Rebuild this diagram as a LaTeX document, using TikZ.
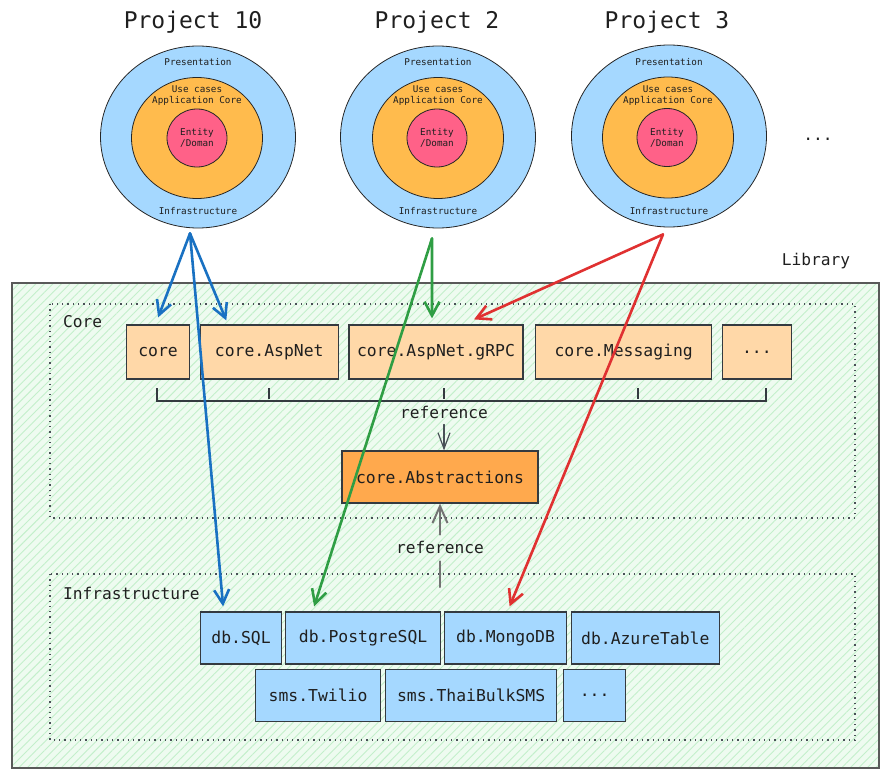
\documentclass[tikz,border=0pt]{standalone}
\usepackage{fontspec}
\setmainfont{DejaVu Sans Mono}
\usetikzlibrary{positioning, arrows.meta, patterns.meta, shapes.geometric}
\definecolor{infraBlue}{HTML}{A5D8FF}
\definecolor{appOrange}{HTML}{FFBB4D}
\definecolor{entityPink}{HTML}{FF6188}
\definecolor{corePeach}{HTML}{FFD8A8}
\definecolor{absOrange}{HTML}{FFA94D}
\definecolor{libGreen}{HTML}{EEFBF0}
\definecolor{hatchGreen}{HTML}{C3EFCB}
\definecolor{edgeDark}{HTML}{343A40}
\definecolor{refGray}{HTML}{495057}
\definecolor{arBlue}{HTML}{1971C2}
\definecolor{arGreen}{HTML}{2F9E44}
\definecolor{arRed}{HTML}{E03131}
\tikzstyle{outerRing} = [ellipse, draw=black!85, fill=infraBlue, line width=0.8pt, minimum width=195pt, minimum height=182pt, inner sep=0pt]
\tikzstyle{midRing} = [ellipse, draw=black!85, fill=appOrange, line width=0.8pt, minimum width=131pt, minimum height=121pt, inner sep=0pt]
\tikzstyle{innerRing} = [ellipse, draw=black!85, fill=entityPink, line width=0.8pt, minimum width=60pt, minimum height=58pt, inner sep=0pt]
\tikzstyle{ringText} = [font=\fontsize{9.3}{11}\selectfont, align=center, inner sep=0pt]
\tikzstyle{projTitle} = [font=\fontsize{23}{26}\selectfont, inner sep=0pt]
\tikzstyle{plainLabel} = [font=\fontsize{16.2}{18}\selectfont, inner sep=0pt]
\tikzstyle{coreBox} = [rectangle, draw=edgeDark, fill=corePeach, line width=1.2pt, minimum height=54pt, inner sep=0pt, font=\fontsize{16.4}{18}\selectfont]
\tikzstyle{absBox} = [coreBox, fill=absOrange, minimum height=52pt]
\tikzstyle{infraBox} = [coreBox, fill=infraBlue, minimum height=52pt]
\tikzstyle{groupFrame} = [draw=refGray, line width=1.3pt, dash pattern=on 1.3pt off 4pt]
\tikzstyle{useArrow} = [line width=2.6pt, line cap=round, line join=round, -{Straight Barb[length=14pt, width=15pt]}]
\tikzstyle{refArrow} = [draw=refGray, line width=1.2pt, line cap=round, -{Straight Barb[length=16pt, width=12pt]}]

\begin{document}
\begin{tikzpicture}[x=1pt, y=-1pt, text=black!88]
    \useasboundingbox (0,0) rectangle (890,778);

    % projects
    \node[outerRing] (p10) at (198,137) {};
    \node[midRing] (p10app) at (197,138) {};
    \node[innerRing] (p10ent) at (197,138) {};
    \node[ringText] (p10pres) at (198,62) {Presentation};
    \node[ringText] (p10use) at (197,95.5) {Use cases\\Application Core};
    \node[ringText] (p10ety) at (197,137.5) {Entity\\/Doman};
    \node[ringText] (p10inf) at (198,211) {Infrastructure};
    \node[projTitle] (p10title) at (193,22) {Project 10};

    \node[outerRing] (p2) at (438,137) {};
    \node[midRing] (p2app) at (438,138) {};
    \node[innerRing] (p2ent) at (437,138) {};
    \node[ringText] (p2pres) at (438,62) {Presentation};
    \node[ringText] (p2use) at (438,95.5) {Use cases\\Application Core};
    \node[ringText] (p2ety) at (437,137.5) {Entity\\/Doman};
    \node[ringText] (p2inf) at (438,211) {Infrastructure};
    \node[projTitle] (p2title) at (437,22) {Project 2};

    \node[outerRing] (p3) at (669,136) {};
    \node[midRing] (p3app) at (668,137.5) {};
    \node[innerRing] (p3ent) at (667,137.5) {};
    \node[ringText] (p3pres) at (669,62) {Presentation};
    \node[ringText] (p3use) at (668,95.5) {Use cases\\Application Core};
    \node[ringText] (p3ety) at (667,137.5) {Entity\\/Doman};
    \node[ringText] (p3inf) at (669,211) {Infrastructure};
    \node[projTitle] (p3title) at (667,22) {Project 3};

    \node[plainLabel] (moreProj) at (818,139) {...};

    % library
    \node[plainLabel] (libLabel) at (816,261) {Library};
    \draw[draw=black!65, line width=1.8pt, preaction={fill=libGreen}, pattern={Lines[angle=45, distance=6pt, line width=0.9pt]}, pattern color=hatchGreen] (12,283) rectangle (879,768);
    \draw[groupFrame] (50,304) rectangle (855,518);
    \draw[groupFrame] (50,574) rectangle (855,740);
    \node[plainLabel, anchor=west] (coreLabel) at (63,322) {Core};
    \node[plainLabel, anchor=west] (infraLabel) at (63,593) {Infrastructure};

    % core packages
    \node[coreBox, minimum width=63pt, anchor=west] (core) at (126,352) {core};
    \node[coreBox, minimum width=138pt, right=9.5pt of core] (aspnet) {core.AspNet};
    \node[coreBox, minimum width=174pt, right=9.5pt of aspnet] (grpc) {core.AspNet.gRPC};
    \node[coreBox, minimum width=176pt, right=11.5pt of grpc] (msg) {core.Messaging};
    \node[coreBox, minimum width=69pt, right=9.5pt of msg] (coreMore) {...};

    \draw[draw=edgeDark, line width=1.2pt] (157,388) -- (157,401) -- (766,401) -- (766,388);
    \draw[draw=edgeDark, line width=1.2pt] (269,388) -- (269,399);
    \draw[draw=edgeDark, line width=1.2pt] (444,388) -- (444,399);
    \draw[draw=edgeDark, line width=1.2pt] (638,388) -- (638,399);

    \node[absBox, minimum width=196pt] (abs) at (440,477) {core.Abstractions};
    \node[plainLabel] (refUp) at (444,412) {reference};
    \draw[refArrow] (refUp.south) ++(0,-6pt) -- ([xshift=4pt]abs.north);

    % infrastructure packages
    \node[infraBox, minimum width=81pt, anchor=west] (dbsql) at (200,638) {db.SQL};
    \node[infraBox, minimum width=155pt, right=2.8pt of dbsql] (pgsql) {db.PostgreSQL};
    \node[infraBox, minimum width=122pt, right=2.8pt of pgsql] (mongo) {db.MongoDB};
    \node[infraBox, minimum width=148pt, right=3.5pt of mongo] (azure) {db.AzureTable};
    \node[infraBox, minimum width=125pt, anchor=west] (twilio) at (255,695.5) {sms.Twilio};
    \node[infraBox, minimum width=171pt, right=3.8pt of twilio] (thai) {sms.ThaiBulkSMS};
    \node[infraBox, minimum width=62pt, right=5.8pt of thai] (infraMore) {...};

    \node[plainLabel] (refDown) at (440,547) {reference};
    \coordinate (refFoot) at (440,587);
    \draw[draw=black!55, line width=2pt, line cap=round] (refFoot) -- ([yshift=-8pt]refDown.south);
    \draw[refArrow, draw=black!55, line width=2pt, -{Straight Barb[length=17pt, width=15pt]}] ([yshift=6pt]refDown.north) -- (abs.south);

    % usage arrows
    \draw[useArrow, arBlue] ([xshift=-8pt, yshift=-5pt]p10.south) -- ([yshift=7pt]core.north);
    \draw[useArrow, arBlue] ([xshift=-8pt, yshift=-5pt]p10.south) -- ([xshift=-43pt, yshift=4pt]aspnet.north);
    \draw[useArrow, arBlue] ([xshift=-8pt, yshift=-5pt]p10.south) -- ([xshift=-18pt, yshift=5pt]dbsql.north);

    \draw[useArrow, arGreen] ([xshift=-6pt, yshift=-10pt]p2.south) -- ([xshift=-4pt, yshift=6pt]grpc.north);
    \draw[useArrow, arGreen] ([xshift=-6pt, yshift=-10pt]p2.south) -- ([xshift=-49pt, yshift=5pt]pgsql.north);

    \draw[useArrow, arRed] ([xshift=-6pt, yshift=-7pt]p3.south) -- ([xshift=38pt, yshift=5pt]grpc.north);
    \draw[useArrow, arRed] ([xshift=-6pt, yshift=-7pt]p3.south) -- ([xshift=4pt, yshift=5pt]mongo.north);
\end{tikzpicture}
\end{document}
